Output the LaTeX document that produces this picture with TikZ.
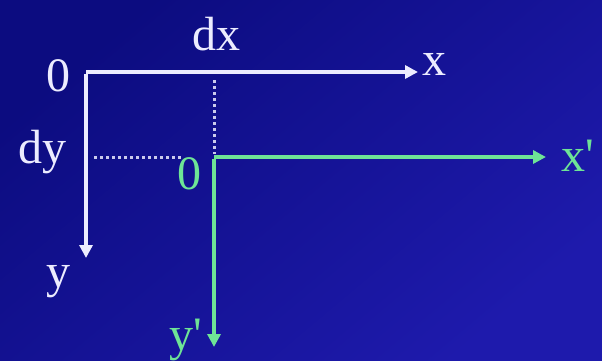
\documentclass[tikz,border=0pt]{standalone}
\usepackage{fontspec}
\setmainfont{Liberation Serif}
\usetikzlibrary{arrows.meta}
\definecolor{bgA}{RGB}{12,12,128}
\definecolor{bgB}{RGB}{30,26,172}
\definecolor{axwhite}{RGB}{236,236,255}
\definecolor{axgreen}{RGB}{110,228,150}
\tikzset{
  lbl/.style={inner sep=0pt, font=\fontsize{48}{52}\selectfont},
  whiteaxis/.style={draw=axwhite, line width=3.5pt, -{Triangle[length=13pt,width=13pt]}},
  greenaxis/.style={draw=axgreen, line width=3.5pt, -{Triangle[length=13pt,width=13pt]}},
  guide/.style={draw=axwhite!85!bgA, line width=3pt, dash pattern=on 2.5pt off 3.5pt}
}
\begin{document}
\begin{tikzpicture}[x=1pt,y=-1pt]
  \shade[top color=bgA, bottom color=bgB, shading angle=40] (0,0) rectangle (602,361);
  \useasboundingbox (0,0) rectangle (602,361);
  % white system
  \coordinate (O) at (86,72);
  \coordinate (X) at (418,72);
  \coordinate (Y) at (86,258);
  \draw[whiteaxis] (O) -- (X);
  \draw[whiteaxis] ([yshift=-1.75pt]O) -- (Y);
  \node[lbl, text=axwhite] (l0) at (58,76) {0};
  \node[lbl, text=axwhite] (lx) at (434,64) {x};
  \node[lbl, text=axwhite] (ly) at (58,282) {y};
  \node[lbl, text=axwhite] (ldx) at (216,34) {dx};
  \node[lbl, text=axwhite] (ldy) at (42,152) {dy};
  % green system
  \coordinate (P) at (214,157);
  \coordinate (Xp) at (546,157);
  \coordinate (Yp) at (214,347);
  \coordinate (dxb) at (214,80);
  \coordinate (dya) at (94,157);
  \coordinate (dyb) at (182,157);
  \draw[guide] (dxb) -- ([yshift=3pt]P);
  \draw[guide] (dya) -- (dyb);
  \draw[greenaxis] (P) -- (Xp);
  \draw[greenaxis] ([yshift=-1.75pt]P) -- (Yp);
  \node[lbl, text=axgreen] (lg0) at (189,174) {0};
  \node[lbl, text=axgreen] (lxp) at (578,156) {x\textquotesingle};
  \node[lbl, text=axgreen] (lyp) at (186,340) {y\textquotesingle};
\end{tikzpicture}
\end{document}
